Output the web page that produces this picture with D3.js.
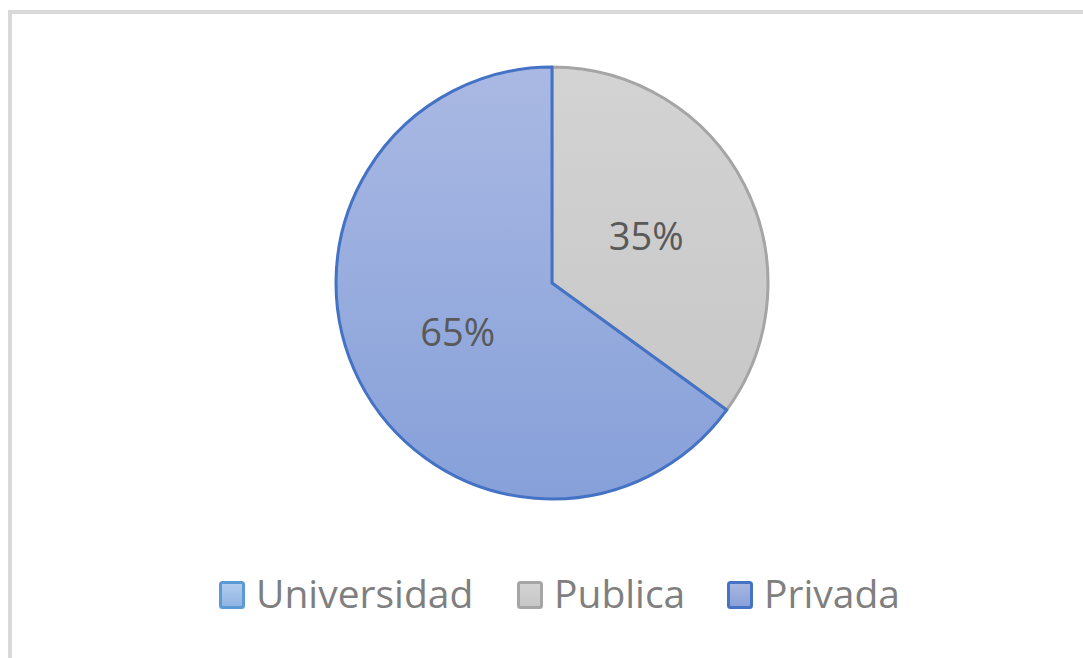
<!DOCTYPE html>
<html>
<head>
<meta charset="utf-8">
<script src="https://cdn.jsdelivr.net/npm/d3@7"></script>
<style>
  body { margin: 0; background: #fff; }
  svg { display: block; }
</style>
</head>
<body>
<div id="chart"></div>
<script>
// Chart data
const categories = ["Universidad", "Publica", "Privada"];
const values = [0, 35, 65];
const labels = ["", "35%", "65%"];

const W = 1083, H = 658;
const cx = 552, cy = 283, radius = 216;

const svg = d3.select("#chart").append("svg")
    .attr("width", W)
    .attr("height", H);

// Gradients for the fills
const defs = svg.append("defs");
const grads = [
    { id: "g0", top: "#b3cdee", bottom: "#8fb3e3" },
    { id: "g1", top: "#d4d4d4", bottom: "#c6c6c6" },
    { id: "g2", top: "#aab8e2", bottom: "#879fd8" }
];
grads.forEach(g => {
    const lg = defs.append("linearGradient")
        .attr("id", g.id)
        .attr("x1", 0).attr("y1", 0).attr("x2", 0).attr("y2", 1);
    lg.append("stop").attr("offset", "0%").attr("stop-color", g.top);
    lg.append("stop").attr("offset", "100%").attr("stop-color", g.bottom);
});
// pie gradient uses absolute coordinates so both slices share it
const pieGrads = [
    { id: "p1", top: "#d3d3d3", bottom: "#c5c5c5" },
    { id: "p2", top: "#aab9e3", bottom: "#86a0d9" }
];
pieGrads.forEach(g => {
    const lg = defs.append("linearGradient")
        .attr("id", g.id)
        .attr("gradientUnits", "userSpaceOnUse")
        .attr("x1", 0).attr("y1", -radius).attr("x2", 0).attr("y2", radius);
    lg.append("stop").attr("offset", "0%").attr("stop-color", g.top);
    lg.append("stop").attr("offset", "100%").attr("stop-color", g.bottom);
});

const strokes = ["#5b9bd5", "#a5a5a5", "#4472c4"];
const fills = ["url(#g0)", "url(#p1)", "url(#p2)"];
const legendFills = ["url(#g0)", "url(#g1)", "url(#g2)"];

// Frame of the chart area (partly cropped)
svg.append("rect")
    .attr("x", 10).attr("y", 12)
    .attr("width", W + 20).attr("height", H + 20)
    .attr("fill", "none")
    .attr("stroke", "#d9d9d9")
    .attr("stroke-width", 4);

const data = categories.map((c, i) => ({ name: c, value: values[i], label: labels[i], idx: i }));

const pie = d3.pie().sort(null).value(d => d.value);
const arc = d3.arc().innerRadius(0).outerRadius(radius);
const labelArc = d3.arc().innerRadius(radius * 0.49).outerRadius(radius * 0.49);

const g = svg.append("g").attr("transform", `translate(${cx},${cy})`);

const arcs = pie(data).filter(d => d.data.value > 0);

g.selectAll("path.slice")
    .data(arcs)
    .enter()
    .append("path")
    .attr("class", "slice")
    .attr("d", arc)
    .attr("fill", d => fills[d.data.idx])
    .attr("stroke", d => strokes[d.data.idx])
    .attr("stroke-width", 3)
    .attr("stroke-linejoin", "round");

g.selectAll("text.lbl")
    .data(arcs)
    .enter()
    .append("text")
    .attr("class", "lbl")
    .attr("x", d => labelArc.centroid(d)[0])
    .attr("y", d => labelArc.centroid(d)[1])
    .attr("text-anchor", "middle")
    .attr("dominant-baseline", "central")
    .attr("font-family", "'Open Sans', sans-serif")
    .attr("font-size", 38)
    .attr("fill", "#595959")
    .text(d => d.data.label);

// Legend
const legendX = [219, 517, 727];
const legend = svg.append("g");
const items = legend.selectAll("g.item")
    .data(data)
    .enter()
    .append("g")
    .attr("class", "item")
    .attr("transform", (d, i) => `translate(${legendX[i]},581)`);

items.append("rect")
    .attr("x", 1.5).attr("y", 1.5)
    .attr("width", 23).attr("height", 25)
    .attr("rx", 2)
    .attr("fill", d => legendFills[d.idx])
    .attr("stroke", d => strokes[d.idx])
    .attr("stroke-width", 3);

items.append("text")
    .attr("x", 37)
    .attr("y", 27)
    .attr("font-family", "'Open Sans', sans-serif")
    .attr("font-size", 39)
    .attr("fill", "#7f7f7f")
    .text(d => d.name);
</script>
</body>
</html>
